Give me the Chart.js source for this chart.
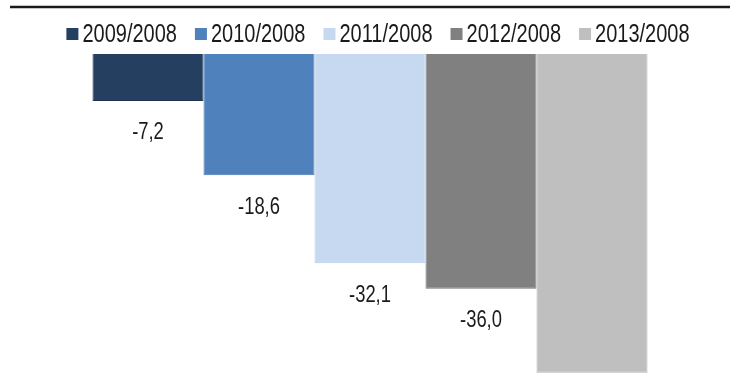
<!DOCTYPE html>
<html>
<head>
<meta charset="utf-8">
<script src="https://cdn.jsdelivr.net/npm/chart.js@4"></script>
<style>
  html, body { margin: 0; padding: 0; background: #fff; }
  #wrap { width: 740px; height: 389px; }
</style>
</head>
<body>
<div id="wrap"><canvas id="miGrafica"></canvas></div>
<script>
// Series (una barra por serie)
const series = ["2009/2008", "2010/2008", "2011/2008", "2012/2008", "2013/2008"];
// Variacion (%)
const valores = [-7.2, -18.6, -32.1, -36.0, -48.9];
const colores = ["#243f60", "#4f81bd", "#c6d9f1", "#808080", "#bfbfbf"];
const bordes = ["#1d3350", "#4675ad", "#b9cde6", "#767676", "#b3b3b3"];

// No hay Arial Narrow: se estrecha Liberation Sans a mano
const fuente = "'Liberation Sans', Arial, sans-serif";
const estrecho = 0.8;

function textoEstrecho(c, txt, x, y) {
  c.save();
  c.translate(x, y);
  c.scale(estrecho, 1);
  c.fillText(txt, 0, 0);
  c.restore();
}

// Linea negra superior
const lineaSuperior = {
  id: "lineaSuperior",
  beforeDraw(chart) {
    const c = chart.ctx;
    c.save();
    c.strokeStyle = "#1a1a1a";
    c.lineWidth = 2.5;
    c.beginPath();
    c.moveTo(10, 7);
    c.lineTo(730, 7);
    c.stroke();
    c.restore();
  }
};

// Leyenda propia (texto estrecho, cuadro pegado al texto)
const leyenda = {
  id: "leyenda",
  afterDraw(chart) {
    const c = chart.ctx;
    const caja = 12, hueco = 4, sep = 18, yMedio = 34;
    c.save();
    c.font = "25px " + fuente;
    c.textBaseline = "middle";
    c.textAlign = "left";
    const anchos = chart.data.datasets.map(ds => c.measureText(ds.label).width * estrecho);
    const total = anchos.reduce((a, w) => a + caja + hueco + w, 0) + sep * (anchos.length - 1);
    let x = (chart.width - total) / 2 + 8;
    chart.data.datasets.forEach((ds, i) => {
      c.fillStyle = ds.backgroundColor;
      c.fillRect(x, yMedio - caja / 2, caja, caja);
      c.fillStyle = "#1a1a1a";
      textoEstrecho(c, ds.label, x + caja + hueco, yMedio + 1);
      x += caja + hueco + anchos[i] + sep;
    });
    c.restore();
  }
};

// Etiquetas debajo de cada barra
const etiquetasValor = {
  id: "etiquetasValor",
  afterDatasetsDraw(chart) {
    const c = chart.ctx;
    c.save();
    c.font = "23px " + fuente;
    c.fillStyle = "#1a1a1a";
    c.textAlign = "center";
    c.textBaseline = "middle";
    chart.data.datasets.forEach((ds, i) => {
      const bar = chart.getDatasetMeta(i).data[0];
      const txt = ds.data[0].toFixed(1).replace(".", ",");
      textoEstrecho(c, txt, bar.x, bar.y + 32);
    });
    c.restore();
  }
};

const ctx = document.getElementById("miGrafica").getContext("2d");
new Chart(ctx, {
  type: "bar",
  data: {
    labels: [""],
    datasets: series.map((s, i) => ({
      label: s,
      data: [valores[i]],
      backgroundColor: colores[i],
      borderColor: bordes[i],
      borderWidth: 1,
      categoryPercentage: 0.75,
      barPercentage: 1
    }))
  },
  options: {
    responsive: true,
    maintainAspectRatio: false,
    animation: false,
    layout: { padding: { top: 54, left: 0, right: 0, bottom: 0 } },
    plugins: {
      legend: { display: false },
      tooltip: { enabled: false }
    },
    scales: {
      x: { display: false, grid: { display: false } },
      y: { display: false, min: -51.4, max: 0, grid: { display: false } }
    }
  },
  plugins: [lineaSuperior, leyenda, etiquetasValor]
});
</script>
</body>
</html>
